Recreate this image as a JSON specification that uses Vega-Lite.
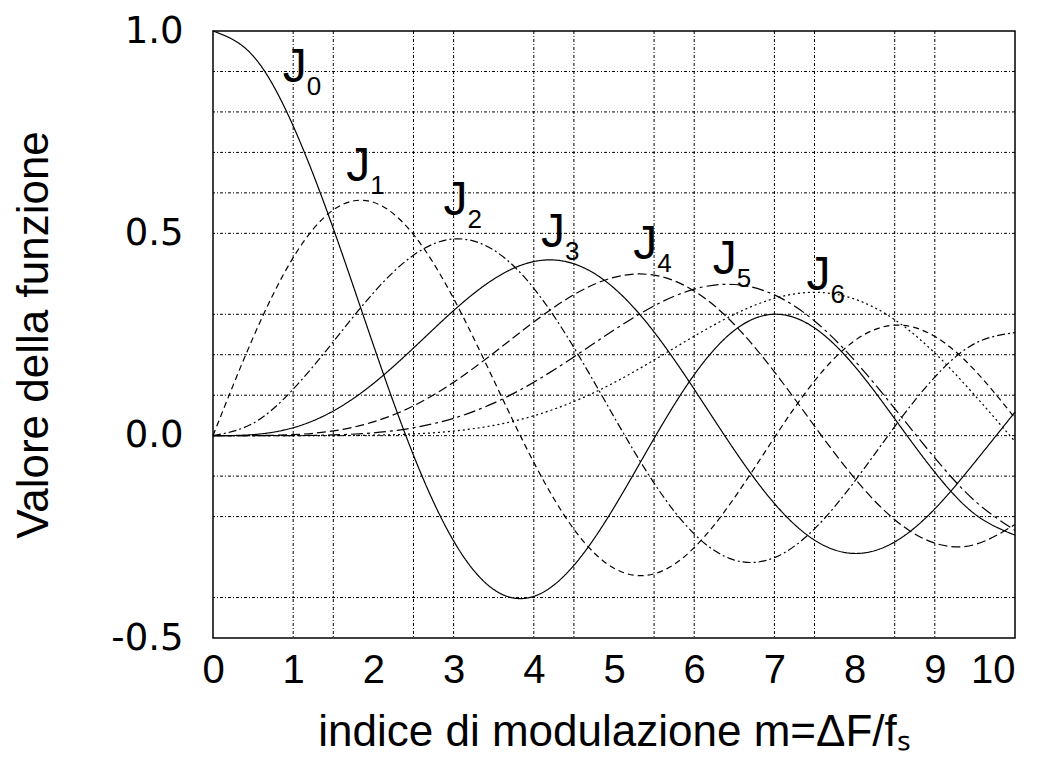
{
  "$schema": "https://vega.github.io/schema/vega-lite/v6.json",
  "width": 802,
  "height": 607,
  "autosize": {"type": "none"},
  "padding": {"left": 213, "top": 31, "right": 24, "bottom": 129},
  "background": "white",
  "config": {"view": {"stroke": "black", "strokeWidth": 1.5}},
  "datasets": {
    "bessel": [
      {"m": 0, "J0": 1, "J1": 0, "J2": 0, "J3": 0, "J4": 0, "J5": 0, "J6": 0},
      {"m": 0.5, "J0": 0.9385, "J1": 0.2423, "J2": 0.0306, "J3": 0.0026, "J4": 0.0002, "J5": 0.0, "J6": 0.0},
      {"m": 1, "J0": 0.7652, "J1": 0.4401, "J2": 0.1149, "J3": 0.0196, "J4": 0.0025, "J5": 0.0002, "J6": 0.0},
      {"m": 1.5, "J0": 0.5118, "J1": 0.5579, "J2": 0.2321, "J3": 0.061, "J4": 0.0118, "J5": 0.0018, "J6": 0.0002},
      {"m": 2, "J0": 0.2239, "J1": 0.5767, "J2": 0.3528, "J3": 0.1289, "J4": 0.034, "J5": 0.007, "J6": 0.0012},
      {"m": 2.5, "J0": -0.0484, "J1": 0.4971, "J2": 0.4461, "J3": 0.2166, "J4": 0.0737, "J5": 0.0195, "J6": 0.0042},
      {"m": 3, "J0": -0.2601, "J1": 0.3391, "J2": 0.4861, "J3": 0.3091, "J4": 0.132, "J5": 0.043, "J6": 0.0114},
      {"m": 3.5, "J0": -0.3801, "J1": 0.1374, "J2": 0.4586, "J3": 0.3868, "J4": 0.2044, "J5": 0.0804, "J6": 0.0254},
      {"m": 4, "J0": -0.3971, "J1": -0.066, "J2": 0.3641, "J3": 0.4302, "J4": 0.2811, "J5": 0.1321, "J6": 0.0491},
      {"m": 4.5, "J0": -0.3205, "J1": -0.2311, "J2": 0.2178, "J3": 0.4247, "J4": 0.3484, "J5": 0.1947, "J6": 0.0843},
      {"m": 5, "J0": -0.1776, "J1": -0.3276, "J2": 0.0466, "J3": 0.3648, "J4": 0.3912, "J5": 0.2611, "J6": 0.131},
      {"m": 5.5, "J0": -0.0068, "J1": -0.3414, "J2": -0.1173, "J3": 0.2561, "J4": 0.3967, "J5": 0.3209, "J6": 0.1868},
      {"m": 6, "J0": 0.1506, "J1": -0.2767, "J2": -0.2429, "J3": 0.1148, "J4": 0.3576, "J5": 0.3621, "J6": 0.2458},
      {"m": 6.5, "J0": 0.2601, "J1": -0.1538, "J2": -0.3074, "J3": -0.0353, "J4": 0.2748, "J5": 0.3735, "J6": 0.2998},
      {"m": 7, "J0": 0.3001, "J1": -0.0047, "J2": -0.3014, "J3": -0.1676, "J4": 0.1578, "J5": 0.3479, "J6": 0.3392},
      {"m": 7.5, "J0": 0.2663, "J1": 0.1352, "J2": -0.2303, "J3": -0.2581, "J4": 0.0238, "J5": 0.2835, "J6": 0.3542},
      {"m": 8, "J0": 0.1717, "J1": 0.2346, "J2": -0.113, "J3": -0.2911, "J4": -0.1054, "J5": 0.1858, "J6": 0.3376},
      {"m": 8.5, "J0": 0.0419, "J1": 0.2731, "J2": 0.0223, "J3": -0.2626, "J4": -0.2077, "J5": 0.0671, "J6": 0.2866},
      {"m": 9, "J0": -0.0903, "J1": 0.2453, "J2": 0.1448, "J3": -0.1809, "J4": -0.2655, "J5": -0.055, "J6": 0.2043},
      {"m": 9.5, "J0": -0.1939, "J1": 0.1613, "J2": 0.2279, "J3": -0.0653, "J4": -0.2691, "J5": -0.1613, "J6": 0.0993},
      {"m": 10, "J0": -0.2459, "J1": 0.0435, "J2": 0.2546, "J3": 0.0584, "J4": -0.2196, "J5": -0.2341, "J6": -0.0145}
    ],
    "gridx": [{"m": 1}, {"m": 1.5}, {"m": 2.5}, {"m": 3}, {"m": 4}, {"m": 4.5}, {"m": 5.5}, {"m": 6}, {"m": 7}, {"m": 7.5}, {"m": 8.5}, {"m": 9}],
    "gridy": [{"v": 0.9}, {"v": 0.8}, {"v": 0.7}, {"v": 0.6}, {"v": 0.5}, {"v": 0.3}, {"v": 0.2}, {"v": 0.1}, {"v": 0}, {"v": -0.1}, {"v": -0.2}, {"v": -0.4}],
    "labels": [
      {"m": 0.87, "v": 0.875, "k": "0"},
      {"m": 1.66, "v": 0.63, "k": "1"},
      {"m": 2.875, "v": 0.545, "k": "2"},
      {"m": 4.09, "v": 0.466, "k": "3"},
      {"m": 5.24, "v": 0.436, "k": "4"},
      {"m": 6.23, "v": 0.4, "k": "5"},
      {"m": 7.4, "v": 0.36, "k": "6"}
    ]
  },
  "layer": [
    {
      "data": {"name": "bessel"},
      "transform": [{"fold": ["J0", "J1", "J2", "J3", "J4", "J5", "J6"], "as": ["n", "v"]}],
      "mark": {"type": "line", "color": "black", "strokeWidth": 1.2, "interpolate": "natural"},
      "encoding": {
        "x": {
          "field": "m", "type": "quantitative",
          "title": "indice di modulazione m=ΔF/fₛ",
          "scale": {"domain": [0, 10], "nice": false, "zero": false},
          "axis": {
            "values": [0, 1, 2, 3, 4, 5, 6, 7, 8, 9, 10],
            "format": "d",
            "grid": false, "ticks": false, "domain": false,
            "labelFont": "Liberation Sans",
            "labelFontSize": 40,
            "labelColor": "black",
            "labelPadding": 12,
            "labelBaseline": "top",
            "labelAlign": {"expr": "datum.value == 10 ? 'right' : 'center'"},
            "labelFlush": false,
            "labelOverlap": false,
            "titleFont": "Liberation Sans",
            "titleFontSize": 44,
            "titleFontWeight": "normal",
            "titleColor": "black",
            "titlePadding": 20
          }
        },
        "y": {
          "field": "v", "type": "quantitative",
          "title": "Valore della funzione",
          "scale": {"domain": [-0.5, 1], "nice": false, "zero": false},
          "axis": {
            "values": [-0.5, 0, 0.5, 1],
            "labelExpr": "datum.value == -0.5 ? '-0.5' : format(datum.value, '.1f')",
            "grid": false, "ticks": false, "domain": false,
            "labelFont": "DejaVu Sans",
            "labelFontSize": 37,
            "labelColor": "black",
            "labelPadding": 30,
            "labelFlush": false,
            "labelOverlap": false,
            "titleFont": "Liberation Sans",
            "titleFontSize": 44,
            "titleFontWeight": "normal",
            "titleColor": "black",
            "titlePadding": 54
          }
        },
        "strokeDash": {
          "field": "n", "type": "nominal",
          "scale": {
            "domain": ["J0", "J1", "J2", "J3", "J4", "J5", "J6"],
            "range": [[1, 0], [6, 4], [8, 3, 2, 3], [1, 0], [9, 4], [12, 4, 3, 4], [2, 3]]
          },
          "legend": null
        }
      }
    },
    {
      "data": {"name": "gridx"},
      "mark": {"type": "rule", "color": "black", "strokeWidth": 1, "strokeDash": [3, 2, 1, 2]},
      "encoding": {"x": {"field": "m", "type": "quantitative", "title": "indice di modulazione m=ΔF/fₛ"}}
    },
    {
      "data": {"name": "gridy"},
      "mark": {"type": "rule", "color": "black", "strokeWidth": 1, "strokeDash": [3, 2, 1, 2]},
      "encoding": {"y": {"field": "v", "type": "quantitative", "title": "Valore della funzione"}}
    },
    {
      "data": {"name": "labels"},
      "mark": {"type": "text", "text": "J", "font": "Liberation Sans", "fontSize": 48, "align": "left", "baseline": "alphabetic", "color": "black"},
      "encoding": {
        "x": {"field": "m", "type": "quantitative", "title": "indice di modulazione m=ΔF/fₛ"},
        "y": {"field": "v", "type": "quantitative", "title": "Valore della funzione"}
      }
    },
    {
      "data": {"name": "labels"},
      "mark": {"type": "text", "font": "Liberation Sans", "fontSize": 26, "align": "left", "baseline": "alphabetic", "color": "black", "dx": 24, "dy": 13},
      "encoding": {
        "x": {"field": "m", "type": "quantitative", "title": "indice di modulazione m=ΔF/fₛ"},
        "y": {"field": "v", "type": "quantitative", "title": "Valore della funzione"},
        "text": {"field": "k", "type": "nominal"}
      }
    }
  ]
}
